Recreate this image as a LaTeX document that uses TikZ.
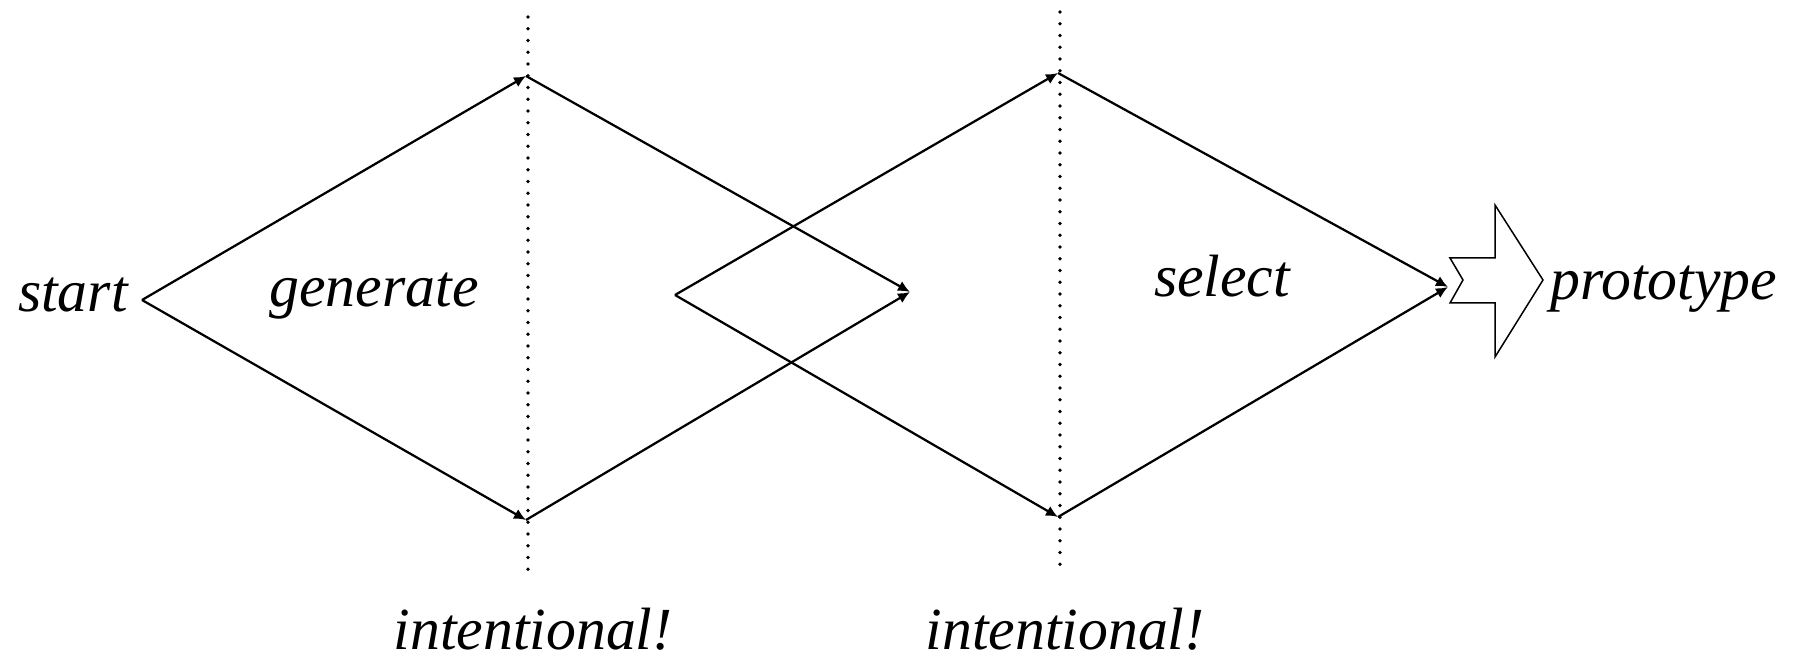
\documentclass[tikz,border=0pt]{standalone}
\usepackage{fontspec}
\setmainfont{Liberation Serif}
\usetikzlibrary{arrows.meta,positioning}

\begin{document}
\begin{tikzpicture}[x=0.02cm,y=-0.02cm,lbl/.style={inner sep=0pt,font=\fontsize{34}{40}\selectfont\itshape},arr/.style={-{Latex[length=0.24cm,width=0.22cm]},line width=0.045cm},dots/.style={line width=0.075cm,line cap=round,dash pattern=on 0pt off 0.235cm}]
\useasboundingbox (0,0) rectangle (1813,661);
% labels
\node[lbl,anchor=base east](start) at (128,312){start};
\node[lbl,anchor=base](gen) at (374,307){generate};
\node[lbl,anchor=base](sel) at (1222,297){select};
\node[lbl,anchor=base west](proto) at (1550,300){prototype};
\node[lbl,anchor=base](int1) at (533,650){intentional!};
\node[lbl,anchor=base](int2) at (1065,650){intentional!};
% diamond corners
\coordinate (s) at (142,300);
\coordinate (t1) at (526,76);\coordinate (b1) at (526,520);\coordinate (r1) at (910,292);
\coordinate (l2) at (675,295);
\coordinate (t2) at (1058,73);\coordinate (b2) at (1058,517);\coordinate (r2) at (1448,287);
% dotted separators
\coordinate (d1a) at (528,17);\coordinate (d1b) at (528,572);
\coordinate (d2a) at (1060,12);\coordinate (d2b) at (1060,569);
\draw[dots](d1a)--(d1b);\draw[dots](d2a)--(d2b);
% generate
\draw[arr](s)--(t1);\draw[arr](s)--(b1);\draw[arr](t1)--(r1);\draw[arr](b1)--(r1);
% select
\draw[arr](l2)--(t2);\draw[arr](l2)--(b2);\draw[arr](t2)--(r2);\draw[arr](b2)--(r2);
% big arrow
\draw[line width=0.03cm,line join=miter](1450,258)--(1495,258)--(1495,205)--(1543,280)--(1495,357)--(1495,303)--(1450,303)--(1463,280)--cycle;
\end{tikzpicture}
\end{document}
